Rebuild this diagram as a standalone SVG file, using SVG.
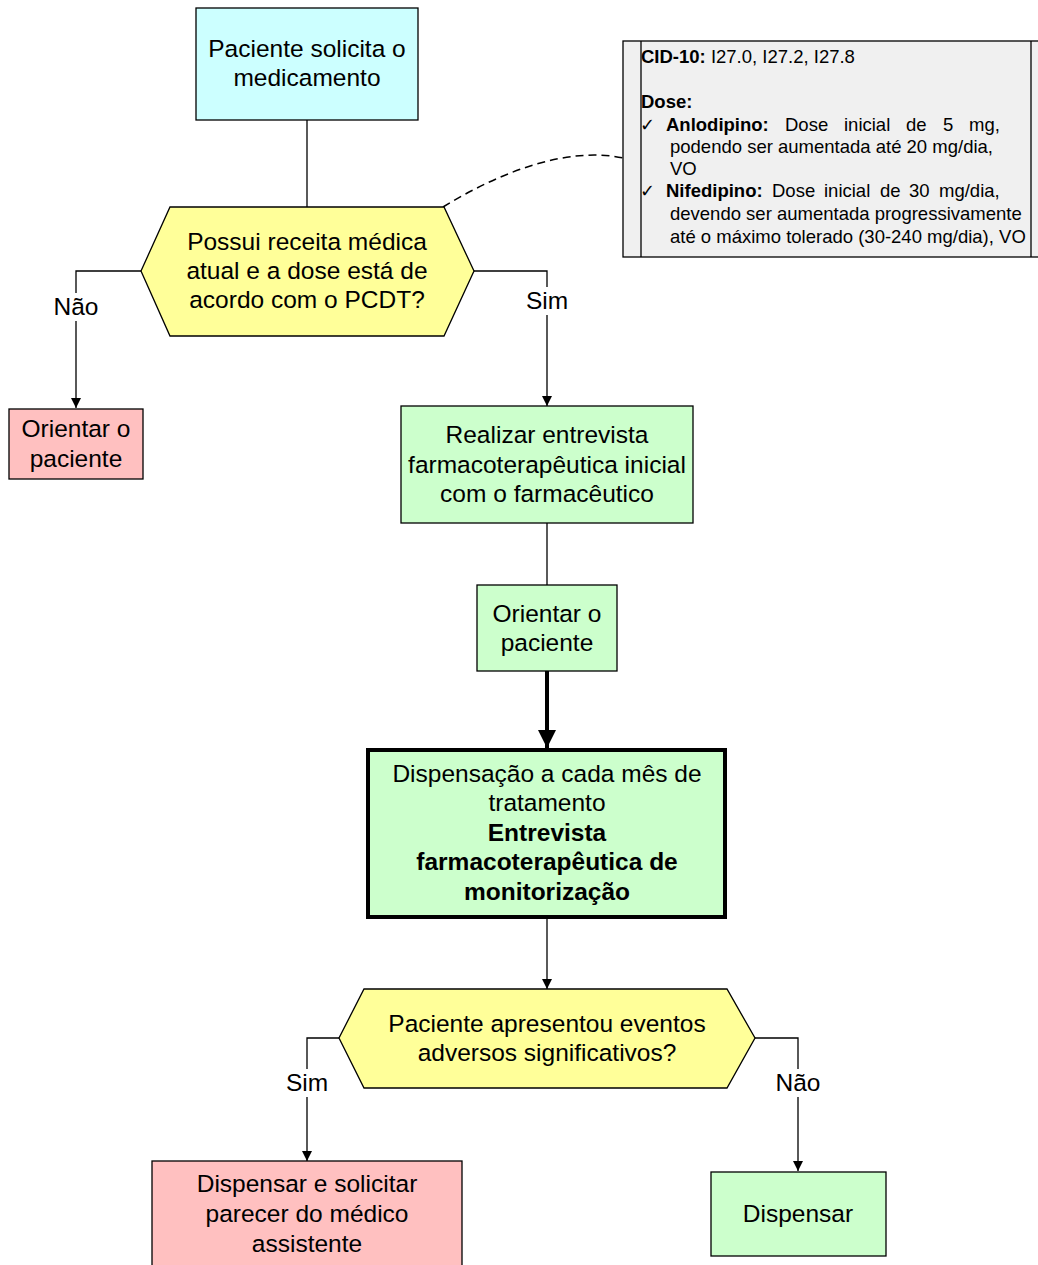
<svg xmlns="http://www.w3.org/2000/svg" width="1038" height="1265" viewBox="0 0 1038 1265">
<defs>
<style>
.t{font-family:"Liberation Sans",Arial,sans-serif;font-size:24.5px;fill:#000;text-anchor:middle}
.b{font-weight:bold}
.n{font-family:"Liberation Sans",Arial,sans-serif;font-size:18.5px;fill:#000}
.ck{font-family:"DejaVu Sans",sans-serif;font-size:18px;fill:#000}
.box{stroke:#000;stroke-width:1.3}
.ln{fill:none;stroke:#000;stroke-width:1.3}
.cyan{fill:#ccffff}.yel{fill:#ffff99}.pink{fill:#ffc0c0}.grn{fill:#ccffcc}
</style>
<marker id="ah" markerWidth="10" markerHeight="12" refX="10" refY="6" orient="auto" markerUnits="userSpaceOnUse">
<path d="M0,1 L10,6 L0,11 Z" fill="#000"/>
</marker>
<marker id="ahb" markerWidth="20" markerHeight="20" refX="18" refY="10" orient="auto" markerUnits="userSpaceOnUse">
<path d="M0,1 L18,10 L0,19 Z" fill="#000"/>
</marker>
</defs>
<rect width="1038" height="1265" fill="#fff"/>

<g id="connectors">
<path class="ln" d="M307,120 V207"/>
<path class="ln" d="M141,271 H76 V408" marker-end="url(#ah)"/>
<path class="ln" d="M474,271 H547 V406" marker-end="url(#ah)"/>
<path class="ln" d="M547,523 V585"/>
<path d="M547,671 V748" fill="none" stroke="#000" stroke-width="4" marker-end="url(#ahb)"/>
<path class="ln" d="M547,918 V989" marker-end="url(#ah)"/>
<path class="ln" d="M339,1038 H307 V1161" marker-end="url(#ah)"/>
<path class="ln" d="M755,1038 H798 V1171" marker-end="url(#ah)"/>
<path d="M443,207 C500,172 568,146 623,158" fill="none" stroke="#000" stroke-width="1.5" stroke-dasharray="8,5"/>
<g id="labels">
<rect x="51" y="293" width="50" height="28" fill="#fff"/>
<text class="t" x="76" y="315">Não</text>
<rect x="522" y="287" width="50" height="28" fill="#fff"/>
<text class="t" x="547" y="309">Sim</text>
<rect x="282" y="1069" width="50" height="28" fill="#fff"/>
<text class="t" x="307" y="1091">Sim</text>
<rect x="773" y="1069" width="50" height="28" fill="#fff"/>
<text class="t" x="798" y="1091">Não</text>
</g>
</g>

<g id="start">
<rect class="box cyan" x="196" y="8" width="222" height="112"/>
<text class="t" x="307" y="57">Paciente solicita o</text>
<text class="t" x="307" y="86">medicamento</text>
</g>

<g id="decision1">
<polygon class="box yel" points="170,207 444,207 474,271 444,336 170,336 141,271"/>
<text class="t" x="307" y="250">Possui receita médica</text>
<text class="t" x="307" y="279">atual e a dose está de</text>
<text class="t" x="307" y="308">acordo com o PCDT?</text>
</g>

<g id="note">
<rect x="623" y="41" width="430" height="216" fill="#f0f0f0" stroke="#000" stroke-width="1.3"/>
<line x1="641" y1="41" x2="641" y2="257" stroke="#000" stroke-width="1.3"/>
<line x1="1031" y1="41" x2="1031" y2="257" stroke="#000" stroke-width="1.3"/>
<text class="n" x="641" y="63"><tspan font-weight="bold">CID-10:</tspan> I27.0, I27.2, I27.8</text>
<text class="n b" x="641" y="108">Dose:</text>
<text class="ck" x="640" y="131">✓</text>
<text class="n" y="131"><tspan x="666" font-weight="bold">Anlodipino:</tspan><tspan x="785">Dose</tspan><tspan x="844">inicial</tspan><tspan x="906">de</tspan><tspan x="943">5</tspan><tspan x="969">mg,</tspan></text>
<text class="n" x="670" y="153">podendo ser aumentada até 20 mg/dia,</text>
<text class="n" x="670" y="175">VO</text>
<text class="ck" x="640" y="197">✓</text>
<text class="n" y="197"><tspan x="666" font-weight="bold">Nifedipino:</tspan><tspan x="772">Dose</tspan><tspan x="824">inicial</tspan><tspan x="880">de</tspan><tspan x="909">30</tspan><tspan x="939">mg/dia,</tspan></text>
<text class="n" x="670" y="220">devendo ser aumentada progressivamente</text>
<text class="n" x="670" y="243">até o máximo tolerado (30-240 mg/dia), VO</text>
</g>

<g id="orient1">
<rect class="box pink" x="9" y="409" width="134" height="70"/>
<text class="t" x="76" y="437">Orientar o</text>
<text class="t" x="76" y="467">paciente</text>
</g>

<g id="entrevista">
<rect class="box grn" x="401" y="406" width="292" height="117"/>
<text class="t" x="547" y="443">Realizar entrevista</text>
<text class="t" x="547" y="473">farmacoterapêutica inicial</text>
<text class="t" x="547" y="502">com o farmacêutico</text>
</g>

<g id="orient2">
<rect class="box grn" x="477" y="585" width="140" height="86"/>
<text class="t" x="547" y="622">Orientar o</text>
<text class="t" x="547" y="651">paciente</text>
</g>

<g id="dispensacao">
<rect class="grn" x="368" y="750" width="357" height="167" stroke="#000" stroke-width="4"/>
<text class="t" x="547" y="782">Dispensação a cada mês de</text>
<text class="t" x="547" y="811">tratamento</text>
<text class="t b" x="547" y="841">Entrevista</text>
<text class="t b" x="547" y="870">farmacoterapêutica de</text>
<text class="t b" x="547" y="900">monitorização</text>
</g>

<g id="decision2">
<polygon class="box yel" points="364,989 727,989 755,1038 727,1088 364,1088 339,1038"/>
<text class="t" x="547" y="1032">Paciente apresentou eventos</text>
<text class="t" x="547" y="1061">adversos significativos?</text>
</g>

<g id="parecer">
<rect class="box pink" x="152" y="1161" width="310" height="110"/>
<text class="t" x="307" y="1192">Dispensar e solicitar</text>
<text class="t" x="307" y="1222">parecer do médico</text>
<text class="t" x="307" y="1252">assistente</text>
</g>

<g id="dispensar">
<rect class="box grn" x="711" y="1172" width="175" height="84"/>
<text class="t" x="798" y="1222">Dispensar</text>
</g>
</svg>
